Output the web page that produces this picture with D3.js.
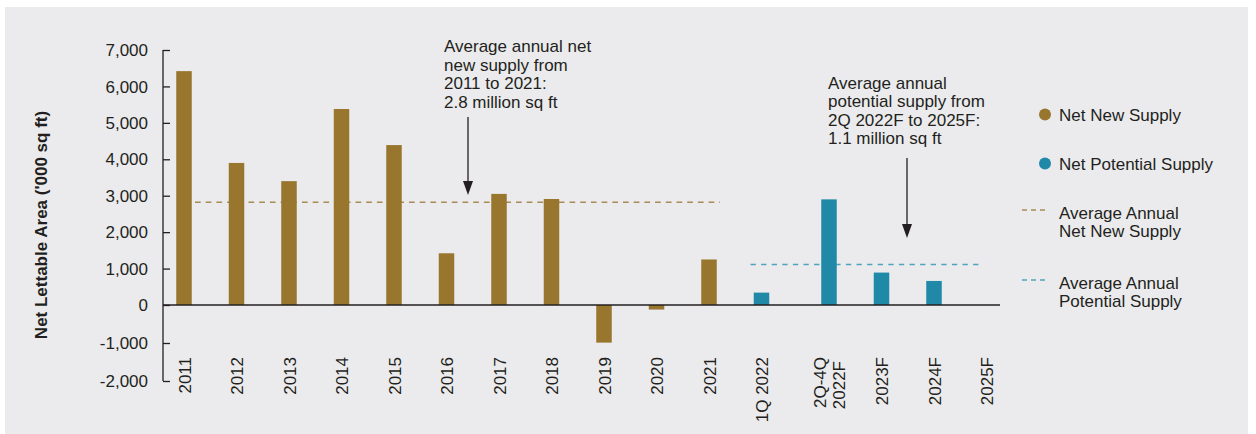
<!DOCTYPE html>
<html>
<head>
<meta charset="utf-8">
<script src="https://cdn.jsdelivr.net/npm/d3@7/dist/d3.min.js"></script>
<style>
  html, body { margin: 0; padding: 0; background: #ffffff; }
  svg { display: block; font-family: "Liberation Sans", Arial, Helvetica, sans-serif; }
</style>
</head>
<body>
<svg id="chart" width="1256" height="434"></svg>
<script>
// Net lettable area supply ('000 sq ft)
const categories = ["2011", "2012", "2013", "2014", "2015", "2016", "2017", "2018",
                    "2019", "2020", "2021", "1Q 2022", "2Q-4Q 2022F", "2023F", "2024F", "2025F"];
const netNewCategories = ["2011", "2012", "2013", "2014", "2015", "2016", "2017", "2018",
                          "2019", "2020", "2021"];
const netNewValues = [6420, 3900, 3400, 5380, 4390, 1420, 3050, 2910, -990, -120, 1250];
const potentialCategories = ["1Q 2022", "2Q-4Q 2022F", "2023F", "2024F", "2025F"];
const potentialValues = [340, 2900, 890, 660, 0];
// the forecast average covers 2Q 2022F to 2025F
const potentialAverageCategories = ["2Q-4Q 2022F", "2023F", "2024F", "2025F"];
const yTicks = [-2000, -1000, 0, 1000, 2000, 3000, 4000, 5000, 6000, 7000];

const colors = {
  netNew: "#98762e",
  potential: "#2089a8",
  netNewAvg: "#a88c55",
  potentialAvg: "#4da4bd",
  text: "#231f20",
  panel: "#ebebed"
};

const svg = d3.select("#chart");

// panel background
svg.append("rect")
  .attr("x", 5).attr("y", 7).attr("width", 1243).attr("height", 427)
  .attr("fill", colors.panel);

// scales
const y = d3.scaleLinear().domain([-2000, 0, 7000]).range([381, 305, 50]);
const xBand = d3.scaleBand().domain(categories).range([157.75, 997.75]);
const forecastGap = 15;
const x = c => xBand(c) + xBand.bandwidth() / 2 + (categories.indexOf(c) >= 12 ? forecastGap : 0);
const barWidth = 15.5;

const axisX = 163;
const axisRight = 1000;

// average lines (behind bars)
const netNewMean = d3.mean(netNewValues);
const potentialMean = d3.mean(potentialAverageCategories.map(c => potentialValues[potentialCategories.indexOf(c)]));

svg.append("line")
  .attr("x1", x(netNewCategories[0]) + 11)
  .attr("x2", x(netNewCategories[netNewCategories.length - 1]) + 11)
  .attr("y1", y(netNewMean)).attr("y2", y(netNewMean))
  .attr("stroke", colors.netNewAvg).attr("stroke-width", 1.6)
  .attr("stroke-dasharray", "5.7,5");

svg.append("line")
  .attr("x1", x(potentialCategories[0]) - 11)
  .attr("x2", x(potentialCategories[potentialCategories.length - 1]) - 3)
  .attr("y1", y(potentialMean)).attr("y2", y(potentialMean))
  .attr("stroke", colors.potentialAvg).attr("stroke-width", 1.6)
  .attr("stroke-dasharray", "5.3,5.3");

// bars
function drawBars(cats, vals, color) {
  svg.append("g").selectAll("rect")
    .data(cats.map((c, i) => ({ c, v: vals[i] })).filter(d => d.v !== 0))
    .join("rect")
    .attr("x", d => x(d.c) - barWidth / 2)
    .attr("width", barWidth)
    .attr("y", d => Math.min(y(d.v), y(0)))
    .attr("height", d => Math.abs(y(d.v) - y(0)))
    .attr("fill", color);
}
drawBars(netNewCategories, netNewValues, colors.netNew);
drawBars(potentialCategories, potentialValues, colors.potential);

// y axis with inward ticks
const yAxis = d3.axisRight(y).tickValues(yTicks).tickSize(7).tickFormat(() => "");
const yg = svg.append("g").attr("transform", `translate(${axisX},0)`).call(yAxis);
yg.select(".domain").remove();
yg.selectAll(".tick line").attr("stroke", colors.text).attr("stroke-width", 1.3);
svg.append("line")
  .attr("x1", axisX).attr("x2", axisX)
  .attr("y1", y(7000)).attr("y2", y(-2000))
  .attr("stroke", colors.text).attr("stroke-width", 1.3);

svg.append("g").selectAll("text")
  .data(yTicks)
  .join("text")
  .attr("x", 148)
  .attr("y", d => y(d))
  .attr("dy", "0.36em")
  .attr("text-anchor", "end")
  .attr("font-size", 17)
  .attr("fill", colors.text)
  .text(d => d3.format(",")(d).replace("−", "-"));

// zero baseline
svg.append("line")
  .attr("x1", axisX).attr("x2", axisRight)
  .attr("y1", y(0)).attr("y2", y(0))
  .attr("stroke", colors.text).attr("stroke-width", 1.3);

// x labels, rotated
const xl = svg.append("g");
categories.forEach(c => {
  const lines = c === "2Q-4Q 2022F" ? ["2Q-4Q", "2022F"] : [c];
  const t = xl.append("text")
    .attr("transform", `translate(${x(c)},357) rotate(-90)`)
    .attr("text-anchor", "end")
    .attr("font-size", 17)
    .attr("fill", colors.text);
  if (lines.length === 1) {
    t.append("tspan").attr("x", 0).attr("dy", "0.4em").text(lines[0]);
  } else {
    t.append("tspan").attr("x", 0).attr("dy", "-0.15em").text(lines[0]);
    t.append("tspan").attr("x", -4).attr("dy", "1.1em").text(lines[1]);
  }
});

// y-axis title
svg.append("text")
  .attr("transform", "translate(47,225) rotate(-90)")
  .attr("text-anchor", "middle")
  .attr("font-size", 17)
  .attr("font-weight", "bold")
  .attr("fill", colors.text)
  .text("Net Lettable Area ('000 sq ft)");

// annotations with arrows
function annotate(lines, tx, ty, ax, ay1, ay2) {
  const t = svg.append("text").attr("font-size", 17).attr("fill", colors.text);
  lines.forEach((l, i) => t.append("tspan").attr("x", tx).attr("y", ty + i * 18.6).text(l));
  svg.append("line")
    .attr("x1", ax).attr("x2", ax).attr("y1", ay1).attr("y2", ay2 - 10)
    .attr("stroke", colors.text).attr("stroke-width", 1.3);
  svg.append("path")
    .attr("d", `M${ax - 5},${ay2 - 14} L${ax + 5},${ay2 - 14} L${ax},${ay2} Z`)
    .attr("fill", colors.text);
}
const fmtMillion = v => `${(v / 1000).toFixed(1)} million sq ft`;
annotate(["Average annual net", "new supply from", "2011 to 2021:", fmtMillion(netNewMean)],
         444, 52, 468, 117, 195);
annotate(["Average annual", "potential supply from", "2Q 2022F to 2025F:", fmtMillion(potentialMean)],
         828, 88.5, 907, 158, 238);

// legend
const legend = svg.append("g").attr("font-size", 17).attr("fill", colors.text);
legend.append("circle").attr("cx", 1045).attr("cy", 114.5).attr("r", 6).attr("fill", colors.netNew);
legend.append("text").attr("x", 1059).attr("y", 120.5).text("Net New Supply");
legend.append("circle").attr("cx", 1045).attr("cy", 163.5).attr("r", 6).attr("fill", colors.potential);
legend.append("text").attr("x", 1059).attr("y", 169.5).text("Net Potential Supply");

legend.append("line").attr("x1", 1022).attr("x2", 1045).attr("y1", 210).attr("y2", 210)
  .attr("stroke", colors.netNewAvg).attr("stroke-width", 1.6).attr("stroke-dasharray", "5,4");
const l3 = legend.append("text");
l3.append("tspan").attr("x", 1059).attr("y", 218.5).text("Average Annual");
l3.append("tspan").attr("x", 1059).attr("y", 237).text("Net New Supply");

legend.append("line").attr("x1", 1022).attr("x2", 1045).attr("y1", 280).attr("y2", 280)
  .attr("stroke", colors.potentialAvg).attr("stroke-width", 1.6).attr("stroke-dasharray", "5,4");
const l4 = legend.append("text");
l4.append("tspan").attr("x", 1059).attr("y", 288.5).text("Average Annual");
l4.append("tspan").attr("x", 1059).attr("y", 307).text("Potential Supply");
</script>
</body>
</html>
